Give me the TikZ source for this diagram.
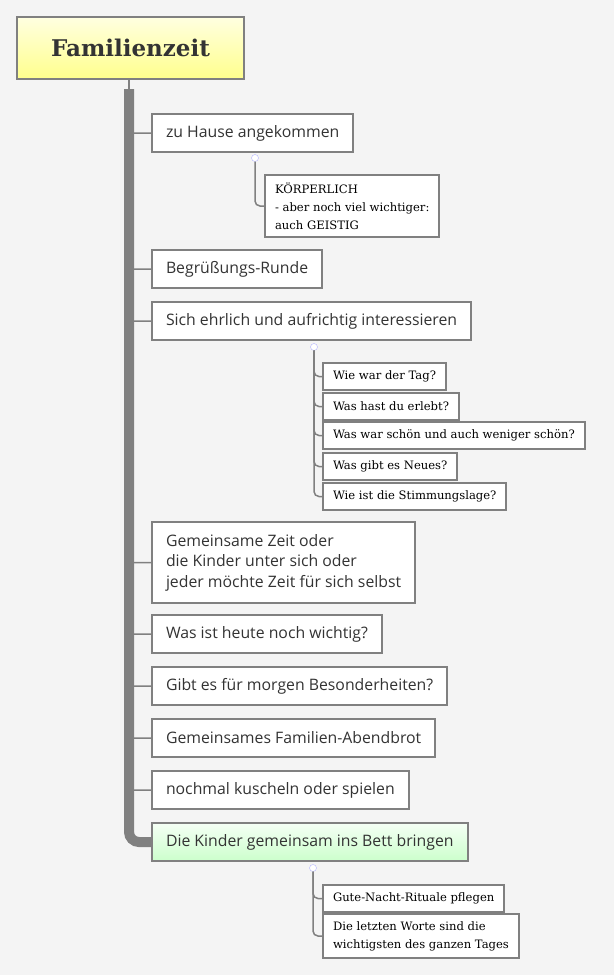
\documentclass[tikz,border=0pt]{standalone}
\usepackage{fontspec}
\setmainfont{Open Sans}
\newfontfamily\slabfont{DejaVu Serif}
\newfontfamily\titlefont{DejaVu Serif}
\definecolor{bgcol}{HTML}{F4F4F4}
\definecolor{linecol}{HTML}{808080}
\definecolor{txtcol}{HTML}{333333}
\begin{document}
\begin{tikzpicture}[x=1pt, y=-1pt,
    topic/.style={draw=linecol, line width=2pt, fill=white, anchor=north west, inner xsep=14pt, align=left, text=txtcol, minimum height=38pt, font=\fontsize{15.8}{20.5}\selectfont},
    subtopic/.style={draw=linecol, line width=2pt, fill=white, anchor=north west, inner xsep=10pt, align=left, text=black, minimum height=27pt, font=\slabfont\fontsize{11.6}{18}\selectfont},
    branch/.style={draw=linecol, line width=1.5pt, rounded corners=5pt},
    knob/.style={circle, draw=blue!30, fill=white, inner sep=0pt, minimum size=7pt}
]
    \useasboundingbox[fill=bgcol] (0,0) rectangle (614,975);

    % Central topic
    \node[draw=linecol, line width=2pt, top color=yellow!12, bottom color=yellow!45, anchor=north west,
          minimum width=227pt, minimum height=62pt, text=txtcol, font=\titlefont\bfseries\fontsize{23}{26}\selectfont]
          (root) at (16,16) {Familienzeit};

    % Main topics
    \node[topic] (home) at (151,113) {zu Hause angekommen};
    \node[topic] (greet) at (151,249) {Begrüßungs-Runde};
    \node[topic] (care) at (151,301) {Sich ehrlich und aufrichtig interessieren};
    \node[topic, minimum height=81pt] (time) at (151,521) {Gemeinsame Zeit oder\\die Kinder unter sich oder\\jeder möchte Zeit für sich selbst};
    \node[topic] (today) at (151,614) {Was ist heute noch wichtig?};
    \node[topic] (tomorrow) at (151,666) {Gibt es für morgen Besonderheiten?};
    \node[topic] (dinner) at (151,718) {Gemeinsames Familien-Abendbrot};
    \node[topic] (cuddle) at (151,770) {nochmal kuscheln oder spielen};
    \node[topic, fill=none, top color=green!4, bottom color=green!20] (bed) at (151,822) {Die Kinder gemeinsam ins Bett bringen};

    % Sub topics
    \node[subtopic, minimum height=62pt] (mind) at (264,174) {KÖRPERLICH\\- aber noch viel wichtiger:\\auch GEISTIG};
    \node[subtopic] (q1) at (322,362) {Wie war der Tag?};
    \node[subtopic] (q2) at (322,392) {Was hast du erlebt?};
    \node[subtopic] (q3) at (322,421) {Was war schön und auch weniger schön?};
    \node[subtopic] (q4) at (322,452) {Was gibt es Neues?};
    \node[subtopic] (q5) at (322,482) {Wie ist die Stimmungslage?};
    \node[subtopic] (r1) at (322,884) {Gute-Nacht-Rituale pflegen};
    \node[subtopic, minimum height=44pt] (r2) at (322,913) {Die letzten Worte sind die\\wichtigsten des ganzen Tages};

    % Trunk
    \coordinate (trunk) at (129,89);
    \draw[linecol, line width=1.5pt] (root.south -| trunk) -- (trunk);
    \draw[linecol, line width=10pt, rounded corners=10pt] (trunk) -- (trunk |- bed.west) -- (bed.west);
    \foreach \n in {home, greet, care, time, today, tomorrow, dinner, cuddle}
        \draw[branch] ([yshift=-14pt]\n.west -| trunk) -- (trunk |- \n.west) -- (\n.west);

    % Sub branches
    \node[knob] (k1) at (255,158) {};
    \draw[branch] (k1) |- (mind.west);
    \node[knob] (k2) at (314,347) {};
    \foreach \n in {q1, q2, q3, q4, q5}
        \draw[branch] (k2) |- (\n.west);
    \node[knob] (k3) at (313,868) {};
    \foreach \n in {r1, r2}
        \draw[branch] (k3) |- (\n.west);
\end{tikzpicture}
\end{document}
